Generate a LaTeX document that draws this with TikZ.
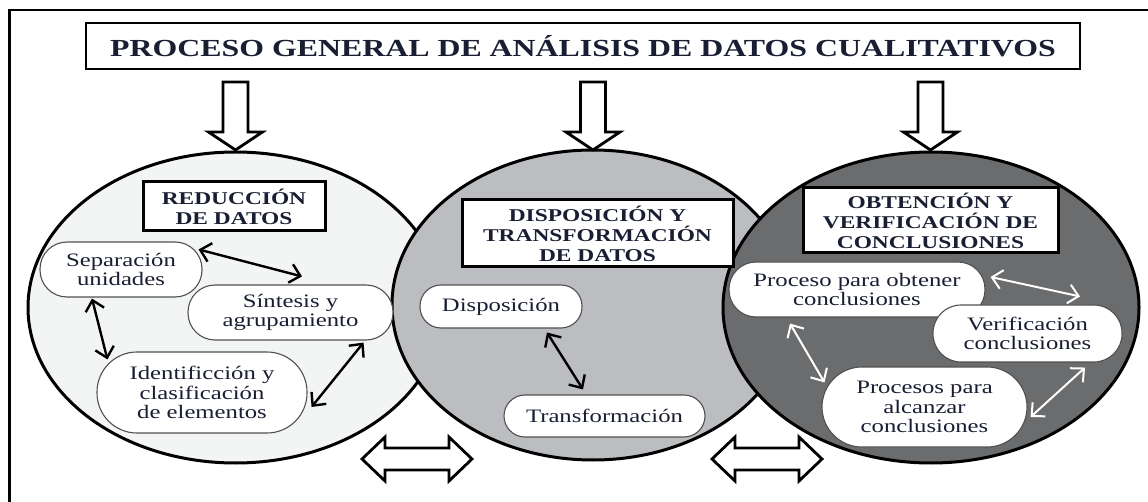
\documentclass[tikz,border=0pt]{standalone}
\usepackage{fontspec}
\setmainfont[FakeStretch=1.3]{Liberation Serif}
\usetikzlibrary{arrows.meta,calc,shapes.geometric}
\definecolor{txt}{RGB}{25,30,50}
\definecolor{cone}{RGB}{243,244,244}
\definecolor{ctwo}{RGB}{188,189,192}
\definecolor{cthree}{RGB}{107,108,110}
\definecolor{nodeline}{RGB}{80,80,80}
\begin{document}
\begin{tikzpicture}[x=1pt,y=-1pt,
  titlebox/.style={draw=black,line width=2.6pt,fill=white,inner sep=0pt,text=txt,
    font=\bfseries\fontsize{24.5}{28}\selectfont},
  headbox/.style={draw=black,line width=3pt,fill=white,inner sep=0pt,align=center,text=txt,
    font=\bfseries\fontsize{18}{20}\selectfont},
  item/.style={draw=nodeline,line width=1.1pt,fill=white,inner sep=0pt,align=center,text=txt,
    font=\fontsize{19}{19.5}\selectfont},
  phase/.style={draw=black,line width=3pt},
  blockarrow/.style={draw=black,line width=2.8pt,fill=white,line join=miter},
  link/.style={line width=2.4pt,{Straight Barb[length=10pt,width=19pt,line width=2.4pt]}-{Straight Barb[length=10pt,width=19pt,line width=2.4pt]}},
  wlink/.style={line width=2pt,draw=white,{Straight Barb[length=10pt,width=19pt,line width=2pt]}-{Straight Barb[length=10pt,width=19pt,line width=2pt]}}
]
\useasboundingbox (0,0) rectangle (1148,502);
\fill[white] (0,0) rectangle (1148,502);
% outer frame (left and top only)
\draw[line width=2.6pt] (9.5,502) -- (9.5,10) -- (1148,10);

% title
\node[titlebox,minimum width=994pt,minimum height=46pt] (title) at (583,46) {PROCESO GENERAL DE ANÁLISIS DE DATOS CUALITATIVOS};

% phases
\node[phase,ellipse,fill=cone,minimum width=415pt,minimum height=311pt,inner sep=0pt] (e1) at (235.5,307.5) {};
\node[phase,ellipse,fill=ctwo,minimum width=402pt,minimum height=310pt,inner sep=0pt] (e2) at (593,305) {};
\node[phase,ellipse,fill=cthree,minimum width=416pt,minimum height=311pt,inner sep=0pt] (e3) at (931,307.5) {};

% down block arrows
\foreach \xx in {235.5,593,930.5}{
  \draw[blockarrow] (\xx-12.5,82) -- (\xx+12.5,82) -- (\xx+12.5,132) -- (\xx+27,132) -- (\xx,150) -- (\xx-27,132) -- (\xx-12.5,132) -- cycle;
}

% horizontal double block arrows
\foreach \dx in {0,350}{
  \draw[blockarrow,xshift=\dx] (362,459) -- (385,437) -- (385,448) -- (449,448) -- (449,437) -- (472,459) -- (449,481) -- (449,470) -- (385,470) -- (385,481) -- cycle;
}

% heading boxes
\node[headbox,minimum width=182pt,minimum height=49pt] (h1) at (234,206.5) {REDUCCIÓN\\DE DATOS};
\node[headbox,minimum width=271pt,minimum height=67pt] (h2) at (597.5,233.5) {DISPOSICIÓN Y\\TRANSFORMACIÓN\\DE DATOS};
\node[headbox,minimum width=255pt,minimum height=65pt] (h3) at (930.5,220.5) {OBTENCIÓN Y\\VERIFICACIÓN DE\\CONCLUSIONES};

% phase 1 items
\node[item,rounded corners=27pt,minimum width=162pt,minimum height=55pt] (sep) at (121,269.5) {Separación\\unidades};
\node[item,rounded corners=27pt,minimum width=205pt,minimum height=55pt] (sint) at (290.5,312.5) {Síntesis y\\agrupamiento};
\node[item,rounded corners=40pt,minimum width=210pt,minimum height=81pt] (iden) at (202,392.5) {Identificción y\\clasificación\\de elementos};

% phase 2 items
\node[item,rounded corners=21pt,minimum width=162pt,minimum height=43pt] (disp) at (501,306.5) {Disposición};
\node[item,rounded corners=21pt,minimum width=201pt,minimum height=42pt] (trans) at (604.5,416) {Transformación};

% phase 3 items
\node[item,rounded corners=27pt,minimum width=256pt,minimum height=55pt] (proc) at (857,289.5) {Proceso para obtener\\conclusiones};
\node[item,rounded corners=28pt,minimum width=189pt,minimum height=57pt] (verif) at (1027.5,333.5) {Verificación\\conclusiones};
\node[item,rounded corners=40pt,minimum width=205pt,minimum height=80pt] (alc) at (924.5,407) {Procesos para\\alcanzar\\conclusiones};

% links phase 1
\draw[link] ([shift={(-4,8)}]sep.north east) -- ([shift={(11.5,-8)}]sint.north);
\draw[link] ([shift={(-29,1)}]sep.south) -- ([shift={(11,8)}]iden.north west);
\draw[link] ([shift={(4,14.5)}]iden.east) -- ([shift={(-30,2)}]sint.south east);
% link phase 2
\draw[link] ([shift={(46,4)}]disp.south) -- ([shift={(-21.5,-5)}]trans.north);
% links phase 3
\draw[wlink] ([shift={(5,-12.5)}]proc.east) -- ([shift={(52.5,-8)}]verif.north);
\draw[wlink] ([shift={(-67,6)}]proc.south) -- ([shift={(3,16)}]alc.north west);
\draw[wlink] ([shift={(3,10)}]alc.east) -- ([shift={(57.5,5)}]verif.south);
\end{tikzpicture}
\end{document}
